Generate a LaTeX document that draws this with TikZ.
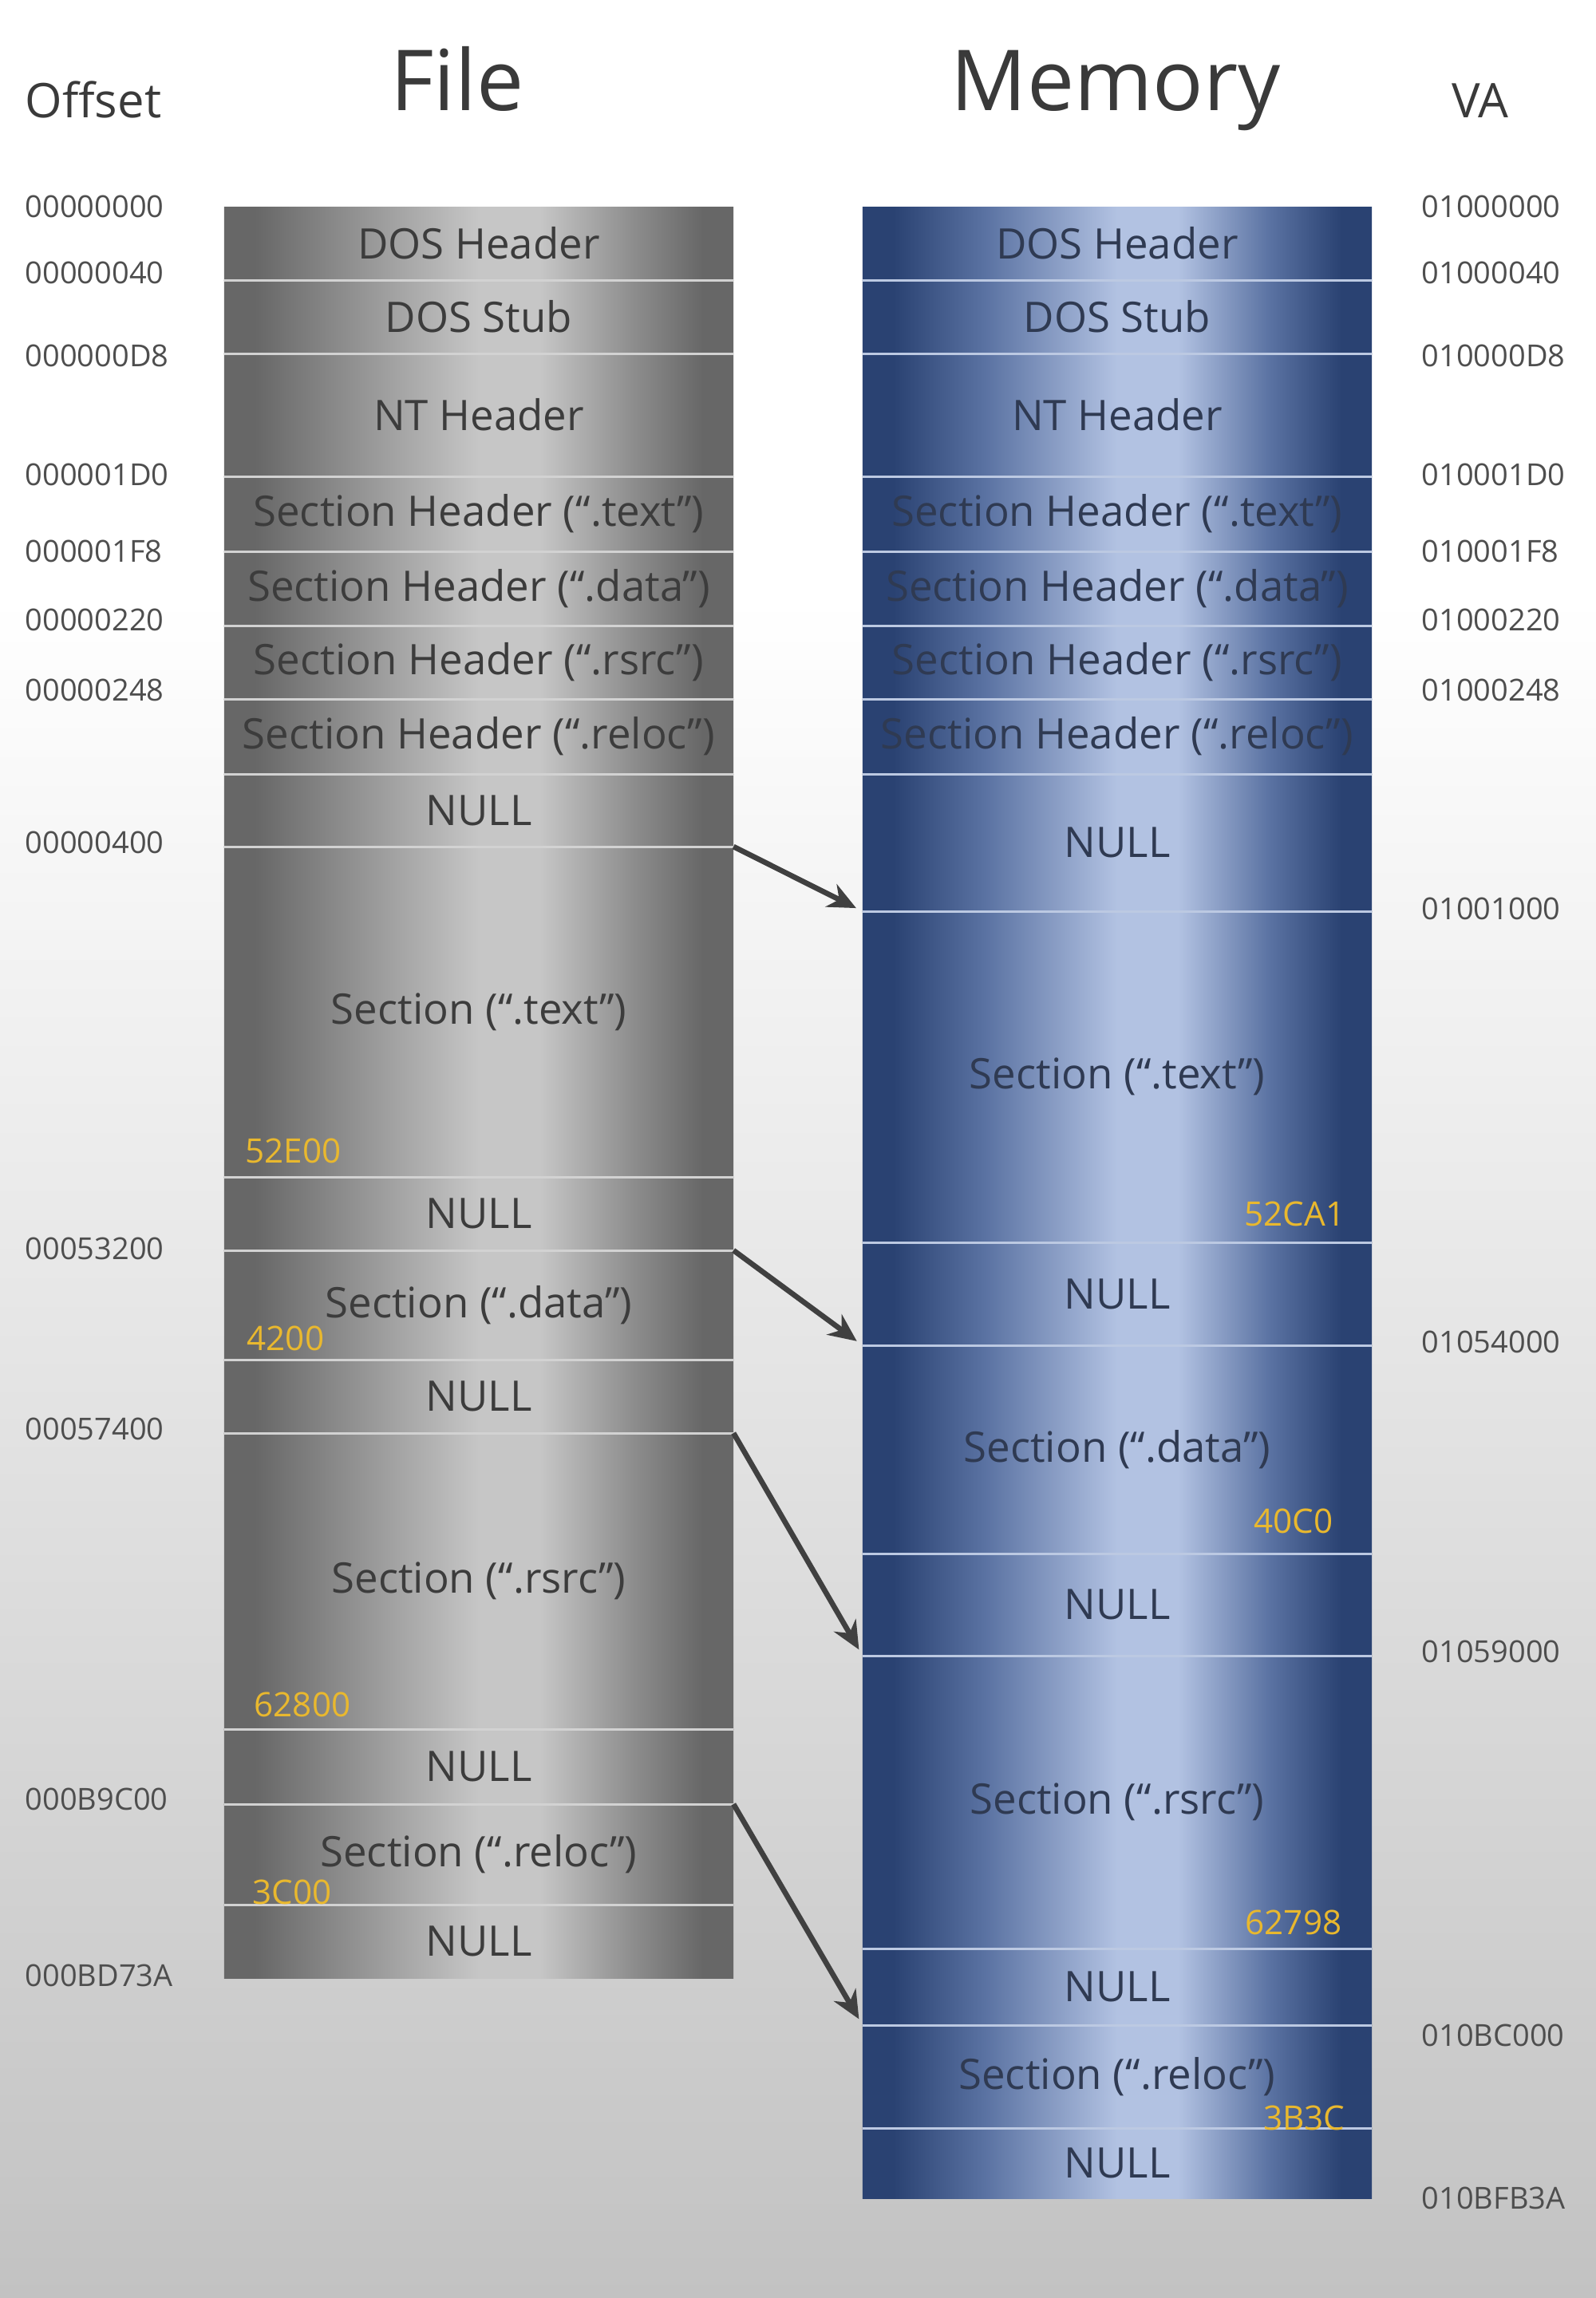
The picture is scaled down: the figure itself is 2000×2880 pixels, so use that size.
\documentclass[tikz,border=0pt]{standalone}
\usepackage{fontspec}
\setmainfont{Open Sans}
\usetikzlibrary{arrows.meta}
\definecolor{gA}{HTML}{676767}
\definecolor{gB}{HTML}{8E8E8E}
\definecolor{gC}{HTML}{C6C6C6}
\definecolor{bA}{HTML}{2A4272}
\definecolor{bB}{HTML}{5A72A2}
\definecolor{bC}{HTML}{B2C2E2}
\definecolor{bgbot}{HTML}{C2C2C2}
\definecolor{bgmid}{HTML}{E4E4E4}
\definecolor{grtxt}{HTML}{3C3C3C}
\definecolor{bltxt}{HTML}{2F3A52}
\definecolor{addr}{HTML}{4E4E4E}
\definecolor{head}{HTML}{3A3A3A}
\definecolor{sizeyel}{HTML}{E9B82E}
\definecolor{sepg}{HTML}{D2D2D2}
\definecolor{sepb}{HTML}{BCC9E2}
\definecolor{arrc}{HTML}{404040}
\pgfdeclarehorizontalshading{grayrowshade}{100bp}{color(0bp)=(gA); color(25bp)=(gA); color(28bp)=(gA); color(37bp)=(gB); color(50bp)=(gC); color(56bp)=(gC); color(65bp)=(gB); color(72bp)=(gA); color(100bp)=(gA)}
\pgfdeclarehorizontalshading{bluerowshade}{100bp}{color(0bp)=(bA); color(25bp)=(bA); color(28bp)=(bA); color(37bp)=(bB); color(50bp)=(bC); color(56bp)=(bC); color(65bp)=(bB); color(72bp)=(bA); color(100bp)=(bA)}
\pgfdeclareverticalshading{bgshade}{100bp}{color(0bp)=(bgbot); color(25bp)=(bgbot); color(45bp)=(bgmid); color(62bp)=(white); color(100bp)=(white)}
\tikzset{
  rowbase/.style={rectangle, inner sep=0pt, outer sep=0pt, minimum width=6.38cm, draw=none, font=\fontsize{15}{18}\selectfont},
  filerow/.style={rowbase, shading=grayrowshade, text=grtxt},
  memrow/.style={rowbase, shading=bluerowshade, text=bltxt},
  addrlbl/.style={anchor=west, inner sep=0pt, text=addr, font=\fontsize{10.8}{12}\selectfont},
  sizelbl/.style={inner sep=0pt, text=sizeyel, font=\fontsize{12}{14}\selectfont},
  headbig/.style={anchor=base, inner sep=0pt, text=head, font=\fontsize{30}{34}\selectfont},
  headsmall/.style={anchor=base, inner sep=0pt, text=head, font=\fontsize{17}{20}\selectfont},
  sepgray/.style={draw=sepg, line width=0.85pt},
  sepblue/.style={draw=sepb, line width=0.85pt},
  maparrow/.style={draw=arrc, line width=1.9pt, -{Stealth[length=10pt,width=9pt]}, shorten >=2.5pt}
}
\newcommand\rowbox[6]{%
  \pgfmathsetmacro\rh{(#4-#3)*0.01}%
  \pgfmathsetmacro\rc{(#3+#4)/2}%
  \node[#1, minimum height=\rh cm] (#2) at (#5,\rc) {#6};}
\begin{document}
\begin{tikzpicture}[x=0.01cm, y=-0.01cm]
\fill[shading=bgshade] (0,0) rectangle (2000,2880);
\useasboundingbox (0,0) rectangle (2000,2880);
% headers
\node[headsmall] (hoff) at (117,147) {Offset};
\node[headbig] (hfile) at (573,138) {File};
\node[headbig] (hmem) at (1398,138) {Memory};
\node[headsmall] (hva) at (1855,147) {VA};
% file rows
\rowbox{filerow}{f1}{259}{351}{600}{DOS Header}
\rowbox{filerow}{f2}{351}{443}{600}{DOS Stub}
\rowbox{filerow}{f3}{443}{597}{600}{NT Header}
\rowbox{filerow}{f4}{597}{691}{600}{Section Header (“.text”)}
\rowbox{filerow}{f5}{691}{784}{600}{Section Header (“.data”)}
\rowbox{filerow}{f6}{784}{876}{600}{Section Header (“.rsrc”)}
\rowbox{filerow}{f7}{876}{970}{600}{Section Header (“.reloc”)}
\rowbox{filerow}{f8}{970}{1061}{600}{NULL}
\rowbox{filerow}{f9}{1061}{1475}{600}{Section (“.text”)}
\rowbox{filerow}{f10}{1475}{1567}{600}{NULL}
\rowbox{filerow}{f11}{1567}{1704}{600}{Section (“.data”)}
\rowbox{filerow}{f12}{1704}{1796}{600}{NULL}
\rowbox{filerow}{f13}{1796}{2167}{600}{Section (“.rsrc”)}
\rowbox{filerow}{f14}{2167}{2261}{600}{NULL}
\rowbox{filerow}{f15}{2261}{2387}{600}{Section (“.reloc”)}
\rowbox{filerow}{f16}{2387}{2479}{600}{NULL}
% memory rows
\rowbox{memrow}{m1}{259}{351}{1400}{DOS Header}
\rowbox{memrow}{m2}{351}{443}{1400}{DOS Stub}
\rowbox{memrow}{m3}{443}{597}{1400}{NT Header}
\rowbox{memrow}{m4}{597}{691}{1400}{Section Header (“.text”)}
\rowbox{memrow}{m5}{691}{784}{1400}{Section Header (“.data”)}
\rowbox{memrow}{m6}{784}{876}{1400}{Section Header (“.rsrc”)}
\rowbox{memrow}{m7}{876}{970}{1400}{Section Header (“.reloc”)}
\rowbox{memrow}{m8}{970}{1142}{1400}{NULL}
\rowbox{memrow}{m9}{1142}{1557}{1400}{Section (“.text”)}
\rowbox{memrow}{m10}{1557}{1686}{1400}{NULL}
\rowbox{memrow}{m11}{1686}{1947}{1400}{Section (“.data”)}
\rowbox{memrow}{m12}{1947}{2075}{1400}{NULL}
\rowbox{memrow}{m13}{2075}{2442}{1400}{Section (“.rsrc”)}
\rowbox{memrow}{m14}{2442}{2538}{1400}{NULL}
\rowbox{memrow}{m15}{2538}{2667}{1400}{Section (“.reloc”)}
\rowbox{memrow}{m16}{2667}{2755}{1400}{NULL}
% separators
\foreach \i in {1,...,15} {
  \draw[sepgray] (f\i.south west) -- (f\i.south east);
  \draw[sepblue] (m\i.south west) -- (m\i.south east);
}
% offsets
\node[addrlbl] (o1) at (31,259) {00000000};
\node[addrlbl] (o2) at (31,342) {00000040};
\node[addrlbl] (o3) at (31,446) {000000D8};
\node[addrlbl] (o4) at (31,595) {000001D0};
\node[addrlbl] (o5) at (31,691) {000001F8};
\node[addrlbl] (o6) at (31,777) {00000220};
\node[addrlbl] (o7) at (31,865) {00000248};
\node[addrlbl] (o8) at (31,1056) {00000400};
\node[addrlbl] (o9) at (31,1565) {00053200};
\node[addrlbl] (o10) at (31,1791) {00057400};
\node[addrlbl] (o11) at (31,2255) {000B9C00};
\node[addrlbl] (o12) at (31,2476) {000BD73A};
% VAs
\node[addrlbl] (v1) at (1781,259) {01000000};
\node[addrlbl] (v2) at (1781,342) {01000040};
\node[addrlbl] (v3) at (1781,446) {010000D8};
\node[addrlbl] (v4) at (1781,595) {010001D0};
\node[addrlbl] (v5) at (1781,691) {010001F8};
\node[addrlbl] (v6) at (1781,777) {01000220};
\node[addrlbl] (v7) at (1781,865) {01000248};
\node[addrlbl] (v8) at (1781,1139) {01001000};
\node[addrlbl] (v9) at (1781,1682) {01054000};
\node[addrlbl] (v10) at (1781,2070) {01059000};
\node[addrlbl] (v11) at (1781,2551) {010BC000};
\node[addrlbl] (v12) at (1781,2755) {010BFB3A};
% sizes
\node[sizelbl, anchor=west] (s1) at (307,1442) {52E00};
\node[sizelbl, anchor=west] (s2) at (309,1677) {4200};
\node[sizelbl, anchor=west] (s3) at (318,2136) {62800};
\node[sizelbl, anchor=west] (s4) at (316,2371) {3C00};
\node[sizelbl, anchor=east] (s5) at (1686,1521) {52CA1};
\node[sizelbl, anchor=east] (s6) at (1671,1906) {40C0};
\node[sizelbl, anchor=east] (s7) at (1682,2409) {62798};
\node[sizelbl, anchor=east] (s8) at (1686,2654) {3B3C};
% arrows
\draw[maparrow] (f8.south east) -- (m8.south west);
\draw[maparrow] (f10.south east) -- (m10.south west);
\draw[maparrow] (f12.south east) -- (m12.south west);
\draw[maparrow] (f14.south east) -- (m14.south west);
\end{tikzpicture}
\end{document}
